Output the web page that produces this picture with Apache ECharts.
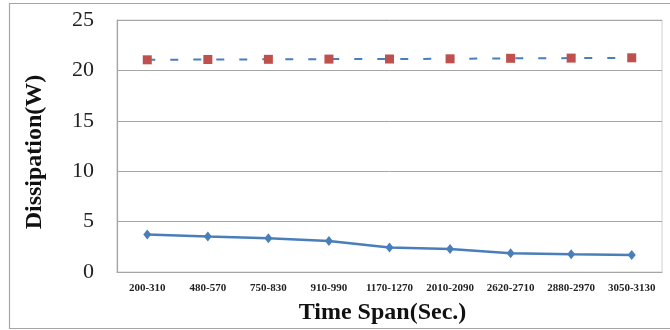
<!DOCTYPE html>
<html>
<head>
<meta charset="utf-8">
<script src="https://cdn.jsdelivr.net/npm/echarts@6/dist/echarts.min.js"></script>
<style>
  html, body { margin: 0; padding: 0; background: #ffffff; }
  #chart { width: 670px; height: 330px; }
</style>
</head>
<body>
<div id="chart"></div>
<script>
// Time span buckets (seconds)
const categories = ['200-310', '480-570', '750-830', '910-990', '1170-1270',
                    '2010-2090', '2620-2710', '2880-2970', '3050-3130'];
// Dissipation in watts
const lowerSeries = [3.71, 3.51, 3.34, 3.08, 2.42, 2.29, 1.85, 1.75, 1.69];
const upperSeries = [21.05, 21.08, 21.1, 21.12, 21.13, 21.15, 21.2, 21.22, 21.25];
const yTicks = { min: 0, max: 25, interval: 5 };

const serif = '"Liberation Serif", "Times New Roman", serif';

const chart = echarts.init(document.getElementById('chart'), null, { renderer: 'canvas' });

chart.setOption({
  animation: false,
  backgroundColor: '#ffffff',
  graphic: [{
    type: 'rect',
    shape: { x: 9.5, y: 3.5, width: 680, height: 325 },
    style: { fill: 'none', stroke: '#a6a6a6', lineWidth: 1.2 },
    silent: true,
    z: -10
  }],
  grid: { left: 117, right: 8, top: 20, bottom: 58, show: true, borderColor: '#d0d0d0', borderWidth: 1 },
  xAxis: {
    type: 'category',
    data: categories,
    boundaryGap: true,
    axisLine: { show: true, lineStyle: { color: '#a6a6a6', width: 1.2 } },
    axisTick: { show: false },
    axisLabel: {
      interval: 0,
      margin: 11,
      fontFamily: serif,
      fontWeight: 'bold',
      fontSize: 11,
      color: '#222222'
    },
    name: 'Time Span(Sec.)',
    nameLocation: 'middle',
    nameGap: 29,
    nameTextStyle: {
      fontFamily: serif,
      fontWeight: 'bold',
      fontSize: 24,
      color: '#111111',
      padding: [0, 14, 0, 0]
    }
  },
  yAxis: {
    type: 'value',
    min: yTicks.min,
    max: yTicks.max,
    interval: yTicks.interval,
    axisLine: { show: true, lineStyle: { color: '#a6a6a6', width: 1.2 } },
    axisTick: { show: false },
    splitLine: { show: true, lineStyle: { color: '#a6a6a6', width: 1 } },
    axisLabel: {
      margin: 23,
      fontFamily: serif,
      fontSize: 22,
      color: '#222222'
    },
    name: 'Dissipation(W)',
    nameLocation: 'middle',
    nameGap: 70,
    nameTextStyle: {
      fontFamily: serif,
      fontWeight: 'bold',
      fontSize: 24,
      color: '#111111',
      padding: [0, 12, 0, 0]
    }
  },
  series: [
    {
      name: 'lower',
      type: 'line',
      data: lowerSeries,
      symbol: 'diamond',
      symbolSize: [8, 10],
      lineStyle: { color: '#4a7ebb', width: 2.5 },
      itemStyle: { color: '#4a7ebb' },
      z: 3
    },
    {
      name: 'upper',
      type: 'line',
      data: upperSeries,
      symbol: 'rect',
      symbolSize: 9,
      lineStyle: { color: '#4a7ebb', width: 2, type: [8, 15] },
      itemStyle: { color: '#c0504d' },
      z: 3
    }
  ]
});
</script>
</body>
</html>
